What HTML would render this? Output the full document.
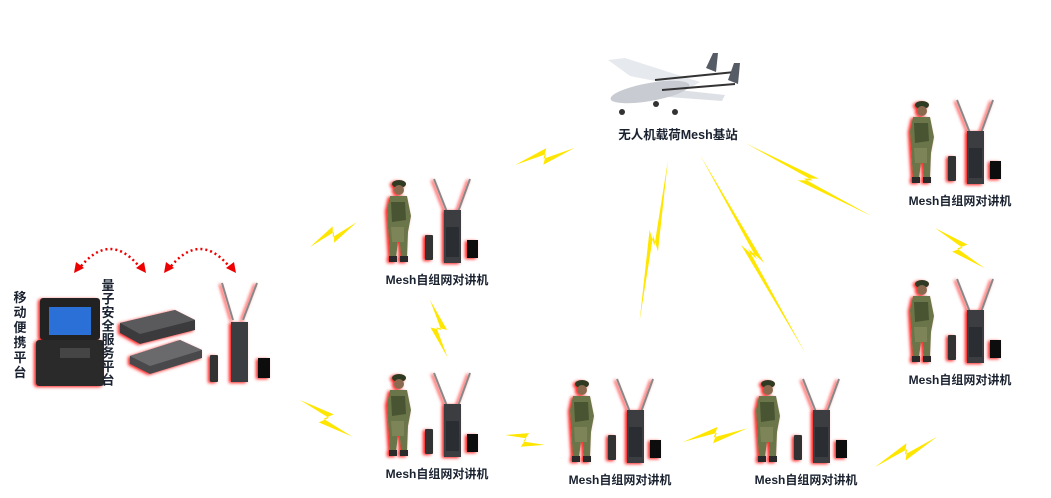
<!DOCTYPE html>
<html><head><meta charset="utf-8"><style>
html,body{margin:0;padding:0;background:#fff;}
svg{display:block;}
text{font-family:"Liberation Sans","Noto Sans CJK SC",sans-serif;fill:#1a2230;font-weight:bold;}
</style></head><body>
<svg width="1051" height="498" viewBox="0 0 1051 498" xmlns="http://www.w3.org/2000/svg">
<defs>
<filter id="glow" x="-30%" y="-30%" width="160%" height="160%">
<feDropShadow dx="-2" dy="1" stdDeviation="1.5" flood-color="#ff0000" flood-opacity="0.9"/>
</filter>
<g id="grp">
 <g filter="url(#glow)">
  <ellipse cx="-38" cy="-88" rx="7" ry="4" fill="#2f3a22"/>
  <circle cx="-38" cy="-82" r="5" fill="#8a6a50"/>
  <path d="M-47,-76 L-30,-76 L-26,-56 L-29,-40 L-30,-14 L-36,-14 L-38,-40 L-41,-14 L-47,-14 L-49,-45 L-50,-62 Z" fill="#6b7448"/>
  <path d="M-46,-70 L-32,-70 L-31,-52 L-45,-50 Z" fill="#4a5532"/>
  <path d="M-46,-45 L-33,-45 L-33,-30 L-45,-30 Z" fill="#7d8458"/>
  <rect x="-48" y="-16" width="8" height="6" fill="#2a2a2a"/>
  <rect x="-37" y="-16" width="8" height="6" fill="#2a2a2a"/>
  <line x1="10" y1="-60" x2="-3" y2="-93" stroke="#888" stroke-width="2"/>
  <line x1="21" y1="-60" x2="33" y2="-93" stroke="#888" stroke-width="2"/>
  <rect x="7" y="-62" width="17" height="53" fill="#3b3d40"/>
  <rect x="9" y="-45" width="13" height="30" fill="#2b2d30"/>
  <rect x="-12" y="-37" width="8" height="25" rx="1" fill="#333"/>
  <rect x="30" y="-32" width="11" height="18" fill="#111"/>
 </g>
</g>
<polygon id="bolt" points="0,0 56,-4 47,1 100,0 44,4 53,-1" fill="#ffe600"/>
</defs>

<use href="#bolt" transform="translate(515,165) rotate(-16) scale(0.62,1.9)"/>
<use href="#bolt" transform="translate(310,247) rotate(-28) scale(0.53,1.9)"/>
<use href="#bolt" transform="translate(430,300) rotate(73) scale(0.60,1.9)"/>
<use href="#bolt" transform="translate(300,400) rotate(35) scale(0.64,1.9)"/>
<use href="#bolt" transform="translate(505,435) rotate(14) scale(0.41,1.9)"/>
<use href="#bolt" transform="translate(683,442) rotate(-12) scale(0.66,1.9)"/>
<use href="#bolt" transform="translate(875,467) rotate(-26) scale(0.69,1.9)"/>
<use href="#bolt" transform="translate(935,228) rotate(39) scale(0.64,1.9)"/>
<use href="#bolt" transform="translate(745,143) rotate(30) scale(1.46,1.5)"/>
<use href="#bolt" transform="translate(668,160) rotate(100) scale(1.64,1.5)"/>
<use href="#bolt" transform="translate(700,155) rotate(62) scale(2.24,1.5)"/>

<g>
 <polygon points="608,60 625,58 700,82 690,88 630,76" fill="#e6e9ee"/>
 <polygon points="660,88 725,95 722,101 655,96" fill="#dde1e6"/>
 <ellipse cx="650" cy="92" rx="40" ry="9" fill="#c8ccd2" transform="rotate(-10 650 92)"/>
 <line x1="655" y1="80" x2="735" y2="72" stroke="#333" stroke-width="2"/>
 <line x1="662" y1="90" x2="735" y2="84" stroke="#333" stroke-width="2"/>
 <polygon points="706,68 713,53 718,53 716,72" fill="#555c66"/>
 <polygon points="728,80 734,63 740,63 738,84" fill="#555c66"/>
 <circle cx="622" cy="112" r="3" fill="#333"/>
 <circle cx="656" cy="104" r="3" fill="#333"/>
 <circle cx="675" cy="112" r="3" fill="#333"/>
 <text x="678" y="139" font-size="12.5" text-anchor="middle">无人机载荷Mesh基站</text>
</g>

<use href="#grp" transform="translate(437,272)"/>
<text x="437" y="284" font-size="12" text-anchor="middle">Mesh自组网对讲机</text>
<use href="#grp" transform="translate(437,466)"/>
<text x="437" y="478" font-size="12" text-anchor="middle">Mesh自组网对讲机</text>
<use href="#grp" transform="translate(620,472)"/>
<text x="620" y="484" font-size="12" text-anchor="middle">Mesh自组网对讲机</text>
<use href="#grp" transform="translate(806,472)"/>
<text x="806" y="484" font-size="12" text-anchor="middle">Mesh自组网对讲机</text>
<use href="#grp" transform="translate(960,193)"/>
<text x="960" y="205" font-size="12" text-anchor="middle">Mesh自组网对讲机</text>
<use href="#grp" transform="translate(960,372)"/>
<text x="960" y="384" font-size="12" text-anchor="middle">Mesh自组网对讲机</text>

<g filter="url(#glow)">
 <rect x="40" y="298" width="60" height="42" rx="3" fill="#222"/>
 <rect x="49" y="307" width="42" height="28" fill="#2b6fd6"/>
 <rect x="36" y="340" width="68" height="46" rx="3" fill="#2a2a2a"/>
 <rect x="60" y="348" width="30" height="10" fill="#444"/>
 <polygon points="120,323 175,310 195,320 195,330 140,344 120,333" fill="#3a3a3c"/>
 <polygon points="120,323 175,310 195,320 140,334" fill="#5a5a5c"/>
 <polygon points="130,356 180,340 202,350 202,358 150,374 130,364" fill="#4a4a4c"/>
 <polygon points="130,356 180,340 202,350 150,366" fill="#6a6a6c"/>
 <line x1="233" y1="320" x2="222" y2="283" stroke="#888" stroke-width="2"/>
 <line x1="243" y1="320" x2="257" y2="283" stroke="#888" stroke-width="2"/>
 <rect x="231" y="322" width="17" height="60" fill="#3b3d40"/>
 <rect x="210" y="355" width="8" height="27" rx="1" fill="#333"/>
 <rect x="258" y="358" width="12" height="20" fill="#111"/>
</g>
<text font-size="13" x="20" y="302" text-anchor="middle">移<tspan x="20" dy="15">动</tspan><tspan x="20" dy="15">便</tspan><tspan x="20" dy="15">携</tspan><tspan x="20" dy="15">平</tspan><tspan x="20" dy="15">台</tspan></text>
<text font-size="13" x="108" y="290" text-anchor="middle">量<tspan x="108" dy="13.5">子</tspan><tspan x="108" dy="13.5">安</tspan><tspan x="108" dy="13.5">全</tspan><tspan x="108" dy="13.5">服</tspan><tspan x="108" dy="13.5">务</tspan><tspan x="108" dy="13.5">平</tspan><tspan x="108" dy="13.5">台</tspan></text>
<path d="M78,270 Q110,228 142,270" fill="none" stroke="#e00" stroke-width="2.5" stroke-dasharray="2,3"/>
<path d="M168,270 Q200,228 232,270" fill="none" stroke="#e00" stroke-width="2.5" stroke-dasharray="2,3"/>
<polygon points="74,273 76,262 84,268" fill="#e00"/>
<polygon points="146,273 144,262 136,268" fill="#e00"/>
<polygon points="164,273 166,262 174,268" fill="#e00"/>
<polygon points="236,273 234,262 226,268" fill="#e00"/>
</svg>
</body></html>
